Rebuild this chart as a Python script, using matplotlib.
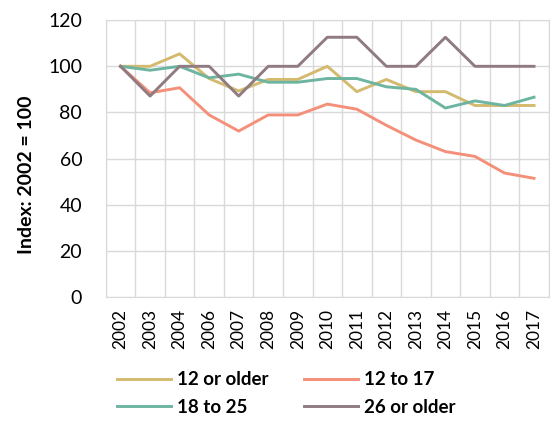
import matplotlib
matplotlib.use("Agg")
import matplotlib.pyplot as plt

plt.rcParams['font.family'] = ['Lato', 'DejaVu Sans']

# categories (no 2005 in the source)
years = ['2002', '2003', '2004', '2006', '2007', '2008', '2009', '2010',
         '2011', '2012', '2013', '2014', '2015', '2016', '2017']

age_12_older = [100, 100, 105.4, 94.7, 89.3, 94.3, 94.3, 100, 89, 94.3, 89, 89, 83, 83, 83]
age_12_17 = [100, 88.5, 90.7, 78.9, 71.9, 78.9, 78.9, 83.6, 81.4, 74.4, 68, 63, 60.9, 53.7, 51.4]
age_18_25 = [100, 98.3, 100, 95, 96.6, 93.1, 93.1, 94.7, 94.7, 91.1, 90, 81.9, 85, 83, 86.6]
age_26_older = [100, 87.1, 100, 100, 87.1, 100, 100, 112.6, 112.6, 100, 100, 112.6, 100, 100, 100]

fig = plt.figure(figsize=(5.51, 4.21), dpi=100)
ax = fig.add_axes([0.192, 0.295, 0.804, 0.657])

x = range(len(years))
l1, = ax.plot(x, age_12_older, color='#D4BA6E', lw=2.1, label='12 or older')
l2, = ax.plot(x, age_12_17, color='#F4907A', lw=2.1, label='12 to 17')
l3, = ax.plot(x, age_18_25, color='#6DB5A0', lw=2.1, label='18 to 25')
l4, = ax.plot(x, age_26_older, color='#8F7B80', lw=2.1, label='26 or older')

ax.set_xlim(-0.5, len(years) - 0.5)
ax.set_ylim(0, 120)
ax.set_yticks(range(0, 121, 20))
ax.set_xticks(list(x))
ax.set_xticklabels(years, rotation=90, fontsize=12.5)
ax.tick_params(axis='y', labelsize=14, length=0, pad=17)
ax.tick_params(axis='x', length=0, pad=9)

# gridlines between categories
ax.set_xticks([i + 0.5 for i in range(-1, len(years))], minor=True)
ax.grid(True, which='minor', axis='x', color='#D9D9D9', lw=1)
ax.grid(True, which='major', axis='y', color='#D9D9D9', lw=1)
ax.tick_params(which='minor', length=0)
for s in ax.spines.values():
    s.set_color('#D9D9D9')

ax.set_ylabel('Index: 2002 = 100', fontsize=14, fontweight='bold')
ax.yaxis.set_label_coords(-0.16, 0.44)

# legend fills column-wise, so order handles to get rows as in the original
fig.legend([l1, l3, l2, l4], ['12 or older', '18 to 25', '12 to 17', '26 or older'],
           loc='upper left', bbox_to_anchor=(0.195, 0.14), ncol=2, frameon=False,
           prop={'size': 13.5, 'weight': 'bold'}, handlelength=2.9, borderpad=0,
           columnspacing=1.9, handletextpad=0.3, labelspacing=0.55)

fig.savefig('out.png', dpi=100)
